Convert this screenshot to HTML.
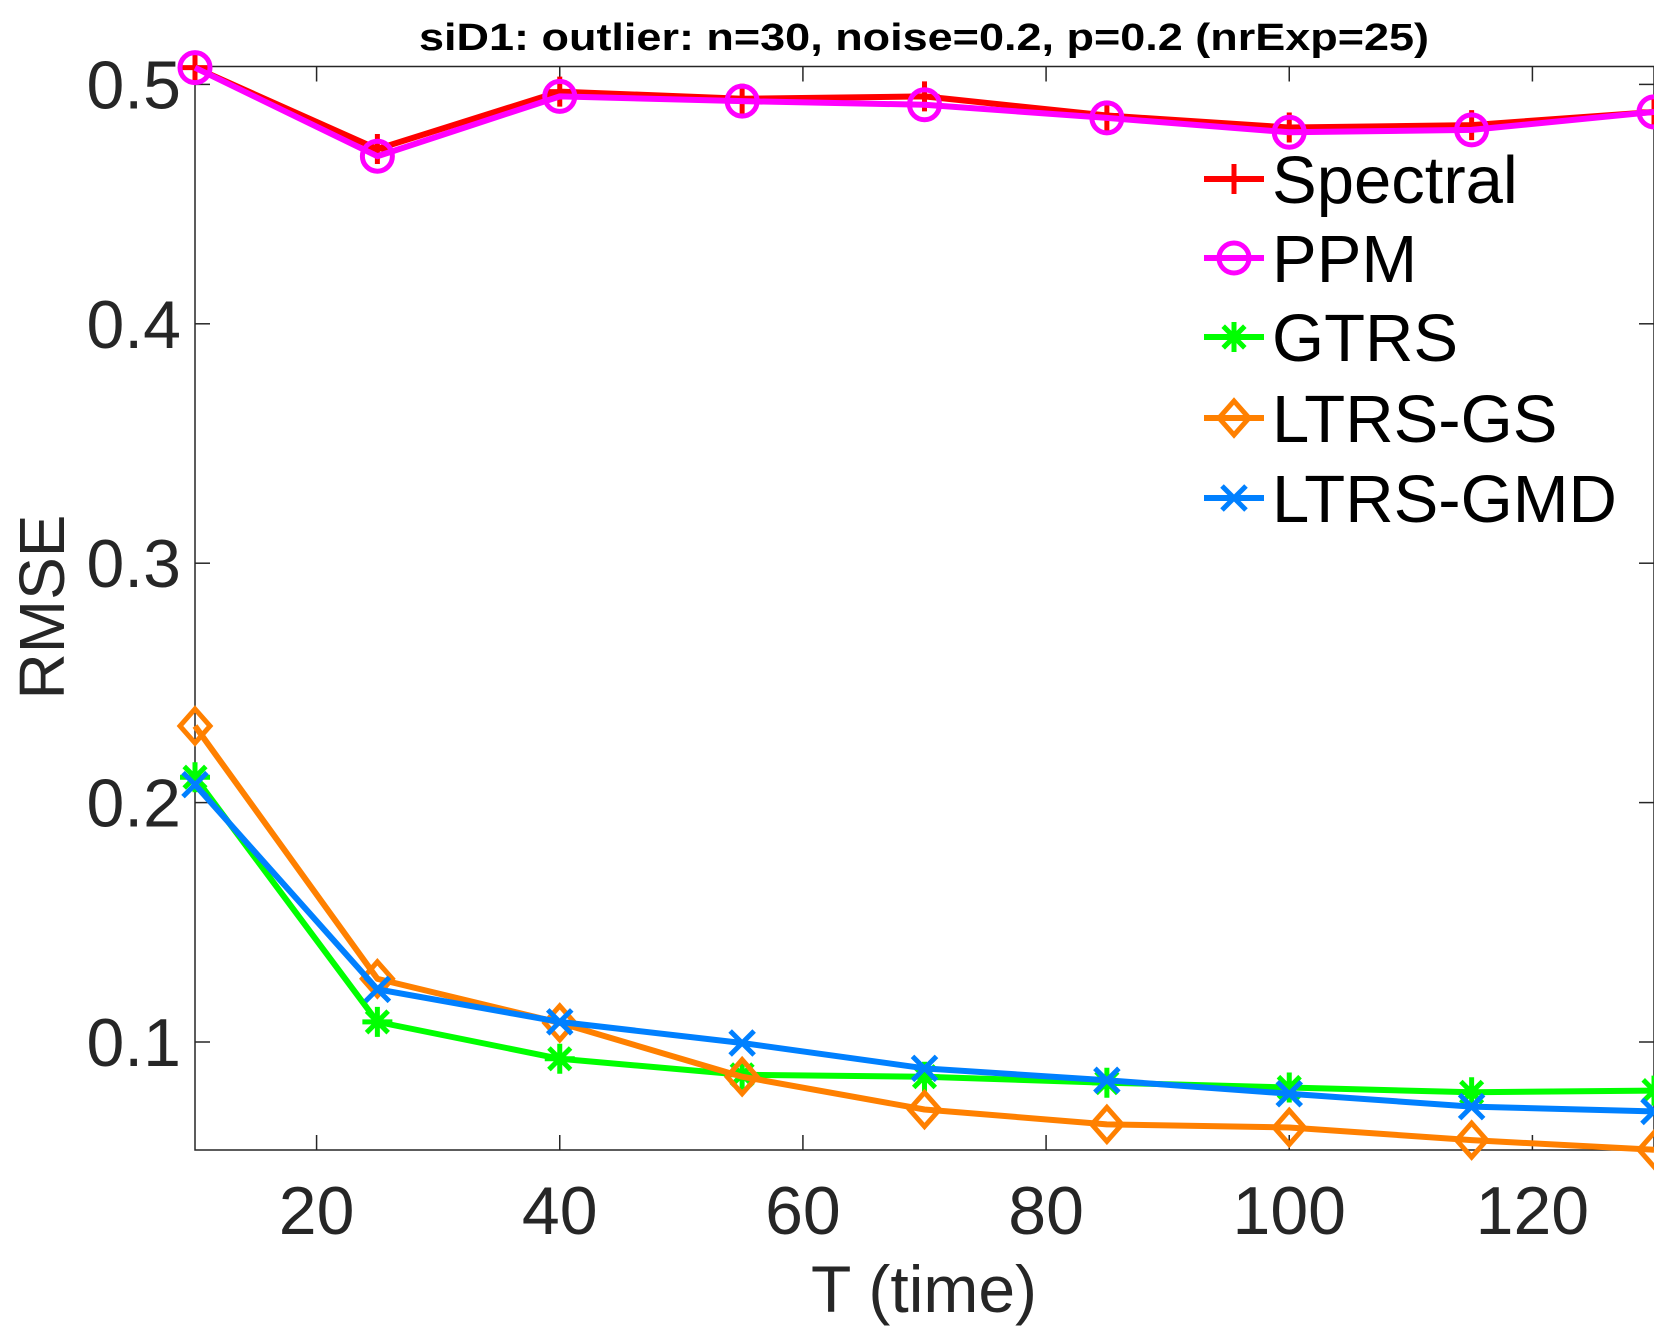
<!DOCTYPE html>
<html><head><meta charset="utf-8"><style>
html,body{margin:0;padding:0;background:#fff;}
svg{display:block;font-family:"Liberation Sans",sans-serif;}
</style></head><body>
<svg id="chart" width="1654" height="1327" viewBox="0 0 1654 1327" xmlns="http://www.w3.org/2000/svg"></svg>
<script>
const categories=[10,25,40,55,70,85,100,115,130];
const spectral=[0.507,0.473,0.497,0.494,0.495,0.487,0.482,0.483,0.4885];
const ppm=[0.507,0.470,0.495,0.493,0.4915,0.486,0.480,0.481,0.4885];
const gtrs=[0.2106,0.1084,0.093,0.0863,0.0855,0.083,0.081,0.079,0.0797];
const ltrsgs=[0.232,0.1264,0.108,0.0855,0.0718,0.0656,0.0643,0.059,0.055];
const ltrsgmd=[0.2075,0.122,0.1084,0.0996,0.089,0.084,0.0784,0.073,0.071];
const xTicks=[20,40,60,80,100,120];
const yTicks=[0.1,0.2,0.3,0.4,0.5];
const seriesNames=["Spectral","PPM","GTRS","LTRS-GS","LTRS-GMD"];

const L=195,R=1654,T=66.5,B=1150;
const xMin=10,xMax=130;
function X(v){return L+(v-xMin)/(xMax-xMin)*(R-L);}
function Y(v){return 1042-(v-0.1)/0.1*239.4;}
const NS="http://www.w3.org/2000/svg";
const svg=document.getElementById('chart');
function mk(tag,attrs,parent){const e=document.createElementNS(NS,tag);for(const k in attrs)e.setAttribute(k,attrs[k]);(parent||svg).appendChild(e);return e;}

const ax=mk('g',{});


mk('rect',{x:L,y:T,width:R-L,height:B-T,fill:'none',stroke:'#262626','stroke-width':1.5},ax);
xTicks.forEach(t=>{
  const x=X(t);
  mk('line',{x1:x,y1:B,x2:x,y2:B-15,stroke:'#262626','stroke-width':1.5},ax);
  mk('line',{x1:x,y1:T,x2:x,y2:T+15,stroke:'#262626','stroke-width':1.5},ax);
  const tx=mk('text',{x:x,y:1234,'font-size':68,fill:'#262626','text-anchor':'middle'},ax);
  tx.textContent=t;
  
  
});
yTicks.forEach(t=>{
  const y=Y(t);
  mk('line',{x1:L,y1:y,x2:L+15,y2:y,stroke:'#262626','stroke-width':1.5},ax);
  mk('line',{x1:R,y1:y,x2:R-15,y2:y,stroke:'#262626','stroke-width':1.5},ax);
  const tx=mk('text',{x:L-14,y:y+24,'font-size':68,fill:'#262626','text-anchor':'end'},ax);
  tx.textContent=t.toFixed(1);
  
  
});
const title=mk('text',{x:924,y:50,'font-size':38,'font-weight':'bold','text-anchor':'middle',fill:'#000',textLength:1010,lengthAdjust:'spacingAndGlyphs'});
title.textContent='siD1: outlier: n=30, noise=0.2, p=0.2 (nrExp=25)';


const xl=mk('text',{x:924,y:1312,'font-size':66,'text-anchor':'middle',fill:'#262626'});
xl.textContent='T (time)';


const yl=mk('text',{x:0,y:0,'font-size':64,'text-anchor':'middle',fill:'#262626',transform:'translate(64,607) rotate(-90)'});
yl.textContent='RMSE';



const sw=5;
function marker(type,x,y,c,g){
  const s=15;
  if(type==='plus'){mk('path',{d:`M${x-s} ${y}H${x+s}M${x} ${y-s}V${y+s}`,stroke:c,'stroke-width':sw,fill:'none'},g);}
  else if(type==='circle'){mk('circle',{cx:x,cy:y,r:s,stroke:c,'stroke-width':sw,fill:'none'},g);}
  else if(type==='star'){const d=s*0.72;mk('path',{d:`M${x-s} ${y}H${x+s}M${x} ${y-s}V${y+s}M${x-d} ${y-d}L${x+d} ${y+d}M${x-d} ${y+d}L${x+d} ${y-d}`,stroke:c,'stroke-width':sw,fill:'none'},g);}
  else if(type==='diamond'){mk('path',{d:`M${x} ${y-s-2}L${x+s} ${y}L${x} ${y+s+2}L${x-s} ${y}Z`,stroke:c,'stroke-width':sw,fill:'none'},g);}
  else if(type==='x'){const d=s*0.8;mk('path',{d:`M${x-d} ${y-d}L${x+d} ${y+d}M${x-d} ${y+d}L${x+d} ${y-d}`,stroke:c,'stroke-width':sw,fill:'none'},g);}
}
const seriesData=[spectral,ppm,gtrs,ltrsgs,ltrsgmd];
const colors=['#ff0000','#ff00ff','#00ff00','#ff8000','#0080ff'];
const markers=['plus','circle','star','diamond','x'];
const ids=['spectral','ppm','gtrs','ltrs-gs','ltrs-gmd'];
const clip=mk('clipPath',{id:'pc'});mk('rect',{x:0,y:0,width:R,height:1327},clip);
seriesData.forEach((vals,i)=>{
  const g=mk('g',{'clip-path':'url(#pc)'});
  
  
  const d=vals.map((v,j)=>(j?'L':'M')+X(categories[j])+' '+Y(v)).join('');
  mk('path',{d:d,stroke:colors[i],'stroke-width':sw+1,fill:'none','stroke-linejoin':'round'},g);
  vals.forEach((v,j)=>marker(markers[i],X(categories[j]),Y(v),colors[i],g));
});
const lg=mk('g',{});


const rows=[179,258,337,418,498];
seriesNames.forEach((n,i)=>{
  const e=mk('g',{},lg);
  
  
  mk('line',{x1:1204,y1:rows[i],x2:1264,y2:rows[i],stroke:colors[i],'stroke-width':sw+1},e);
  marker(markers[i],1234,rows[i],colors[i],e);
  const t=mk('text',{x:1272,y:rows[i]+24,'font-size':67,fill:'#000'},e);
  t.textContent=n;
});
</script>
</body></html>
